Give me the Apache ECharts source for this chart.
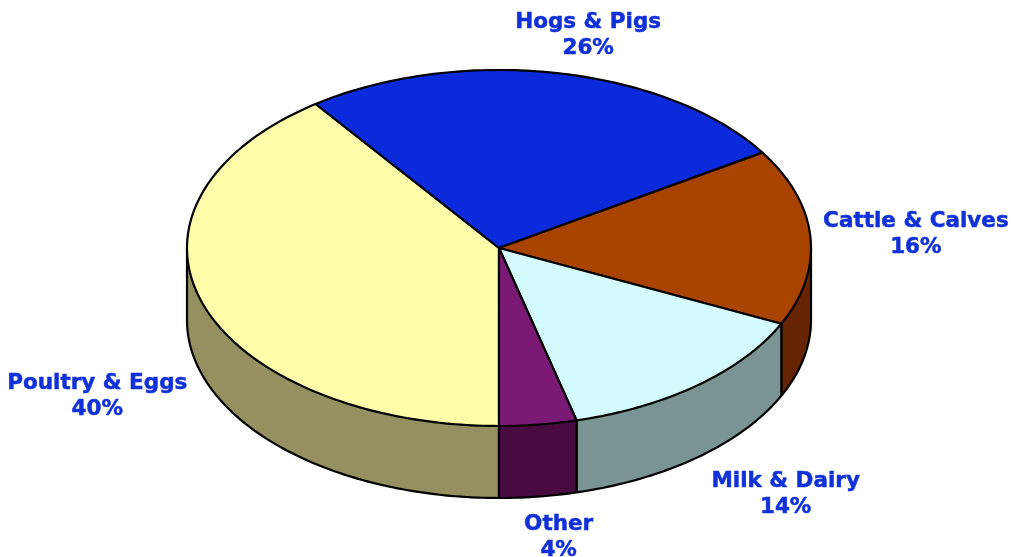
<!DOCTYPE html>
<html><head><meta charset="utf-8">
<script src="https://cdn.jsdelivr.net/npm/echarts@6/dist/echarts.min.js"></script>
<style>html,body{margin:0;padding:0;background:#fff}#c{width:1011px;height:557px}</style>
</head><body><div id="c"></div>
<script>
const categories = ['Poultry & Eggs', 'Hogs & Pigs', 'Cattle & Calves', 'Milk & Dairy', 'Other'];
const values = [40, 26, 16, 14, 4];
const topColors = ['#FFFCAA', '#0A2ADC', '#A84400', '#D4FCFC', '#7B1A75'];
const sideColors = ['#949060', '#0A1A80', '#662400', '#7A9494', '#470B40'];

// layout (pixels)
const CX = 499, CY = 248, RX = 312, RY = 178, DEPTH = 72;
const START = 180; // degrees clockwise from 12 o'clock
const FONT = 'bold 21.5px "DejaVu Sans", Verdana, sans-serif';
const total = values.reduce((a, b) => a + b, 0);
const starts = [], ends = [];
let acc = 0;
values.forEach(v => { starts.push(START + acc / total * 360); acc += v; ends.push(START + acc / total * 360); });

const measureCtx = document.createElement('canvas').getContext('2d');
measureCtx.font = FONT;
function textWidth(lines) { return Math.max.apply(null, lines.map(l => measureCtx.measureText(l).width)); }

function pt(deg, dy) {
  const t = deg * Math.PI / 180;
  return [CX + RX * Math.sin(t), CY - RY * Math.cos(t) + (dy || 0)];
}
function arc(a, b, dy) {
  const pts = [];
  const n = Math.max(2, Math.ceil(Math.abs(b - a)));
  for (let i = 0; i <= n; i++) pts.push(pt(a + (b - a) * i / n, dy));
  return pts;
}
const LINE = { stroke: '#000', lineWidth: 2.2 };

function renderSide(params, api) {
  const i = params.dataIndex;
  const children = [];
  for (const off of [0, 360, -360]) {
    const a = Math.max(starts[i] + off, 90), b = Math.min(ends[i] + off, 270);
    if (b > a) {
      const top = arc(a, b, 0), bot = arc(b, a, DEPTH);
      children.push({ type: 'polygon', shape: { points: top.concat(bot) },
        style: { fill: sideColors[i], stroke: null } });
      children.push({ type: 'polyline', shape: { points: arc(a, b, DEPTH) }, style: Object.assign({ fill: null }, LINE) });
      [a, b].forEach(d => {
        if (d > 90 && d < 270) {
          const p = pt(d);
          children.push({ type: 'line', shape: { x1: p[0], y1: p[1], x2: p[0], y2: p[1] + DEPTH }, style: LINE });
        }
      });
      if (a <= 90.001) children.push({ type: 'line', shape: { x1: CX + RX, y1: CY, x2: CX + RX, y2: CY + DEPTH }, style: LINE });
      if (b >= 269.999) children.push({ type: 'line', shape: { x1: CX - RX, y1: CY, x2: CX - RX, y2: CY + DEPTH }, style: LINE });
    }
  }
  return { type: 'group', children };
}

function renderTop(params, api) {
  const i = params.dataIndex;
  const pts = [[CX, CY]].concat(arc(starts[i], ends[i], 0));
  return { type: 'polygon', shape: { points: pts },
    style: { fill: topColors[i], stroke: '#000', lineWidth: 2.2, lineJoin: 'round' } };
}

function renderLabel(params, api) {
  const i = params.dataIndex;
  const mid = (starts[i] + ends[i]) / 2;
  const t = mid * Math.PI / 180;
  const s = Math.sin(t), c = Math.cos(t);
  const lines = [categories[i], Math.round(api.value(0) / total * 100) + '%'];
  const w = textWidth(lines);
  let x = CX + (RX + 12 + 12 * Math.abs(c)) * s;
  let y = c >= 0 ? CY - (RY + 38) * c : CY - (RY + 40) * c + DEPTH + 10 * Math.abs(s);
  if (s > 0.3) x += w / 2; else if (s < -0.3) x -= w / 2; else x += s * 140;
  return { type: 'text', x, y,
    style: { text: lines.join('\n'), fill: '#1030D8', font: FONT, stroke: '#1030D8', lineWidth: 0.5,
      align: 'center', verticalAlign: 'middle', lineHeight: 26 } };
}

const data = values.map(v => [v]);
const chart = echarts.init(document.getElementById('c'), null, { renderer: 'canvas' });
chart.setOption({
  backgroundColor: '#ffffff',
  animation: false,
  series: [
    { type: 'custom', coordinateSystem: 'none', renderItem: renderSide, data, z: 1, silent: true },
    { type: 'custom', coordinateSystem: 'none', renderItem: renderTop, data, z: 2, silent: true },
    { type: 'custom', coordinateSystem: 'none', renderItem: renderLabel, data, z: 3, silent: true }
  ]
});
</script></body></html>
